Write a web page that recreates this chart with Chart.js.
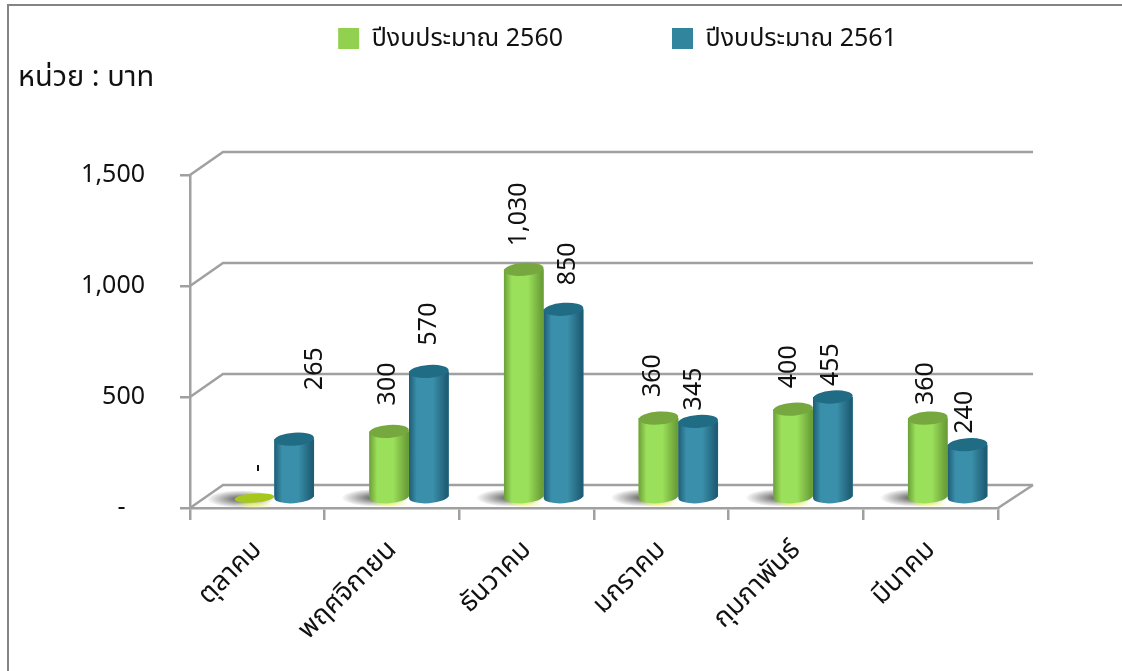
<!DOCTYPE html>
<html>
<head>
<meta charset="utf-8">
<style>
html, body { margin: 0; padding: 0; background: #fff; }
#wrap { width: 1122px; height: 671px; }
</style>
<script src="https://cdn.jsdelivr.net/npm/chart.js@4/dist/chart.umd.min.js"></script>
</head>
<body>
<div id="wrap"><canvas id="budgetChart" width="1122" height="671"></canvas></div>
<script>
var months = ['ตุลาคม', 'พฤศจิกายน', 'ธันวาคม', 'มกราคม', 'กุมภาพันธ์', 'มีนาคม'];
var budget2560 = [0, 300, 1030, 360, 400, 360];
var budget2561 = [265, 570, 850, 345, 455, 240];
var yTicks = [0, 500, 1000, 1500];
var unitLabel = 'หน่วย : บาท';

var fontName = '"Noto Sans", "Noto Sans Thai", "DejaVu Sans", sans-serif';
var gridGrey = '#a0a0a0';
var depthX = 33, depthY = 23;      // wall depth
var barShiftX = 17, barShiftY = 10; // bars stand in the middle of the floor
var legendGap = 109;

// per series look of the cylinders
var looks = [
    { edge: '#6b9f38', mid: '#9be05a', cap: '#76a83f', flat: '#a6c81c' },
    { edge: '#1f5c75', mid: '#3a90aa', cap: '#206c85', flat: '#206c85' }
];

// small hand adjustments of the value labels, [dx, gap above the cap]
var labelNudge = [
    [[3, 26], [-1, 26], [-5, 23], [-6, 21], [-4, 21], [-2, 13]],
    [[21, 49], [0, 26], [4, 24], [-4, 11], [-2, 11], [-3, 11]]
];

function formatNum(v) {
    if (v === 0) return '-';
    return v.toLocaleString('en-US');
}

var wallPlugin = {
    id: 'wall',
    beforeDraw: function (chart) {
        var c = chart.ctx;
        c.save();
        // outer frame
        c.strokeStyle = '#848484';
        c.lineWidth = 2;
        c.beginPath();
        c.moveTo(8, 671);
        c.lineTo(8, 5);
        c.lineTo(1122, 5);
        c.stroke();
        // unit text
        c.fillStyle = '#111';
        c.font = '29px ' + fontName;
        c.textBaseline = 'middle';
        c.fillText(unitLabel, 18, 78);
        // back wall and floor
        var a = chart.chartArea;
        var y = chart.scales.y;
        c.strokeStyle = gridGrey;
        c.lineWidth = 2.5;
        yTicks.forEach(function (t) {
            var py = y.getPixelForValue(t);
            c.beginPath();
            c.moveTo(a.left, py);
            c.lineTo(a.left + depthX, py - depthY);
            c.lineTo(a.right + depthX + 2, py - depthY);
            c.stroke();
        });
        c.beginPath();
        c.moveTo(a.right, a.bottom);
        c.lineTo(a.right + depthX + 2, a.bottom - depthY);
        c.stroke();
        c.restore();
    },
    afterLayout: function (chart) {
        // legend sits right of centre, as in the original
        var lg = chart.legend;
        lg.left = 55;
        lg.right = 1180;
        lg.top = 26 - legendGap;
    },
    beforeDatasetsDraw: function (chart) {
        var c = chart.ctx;
        // floor shadows under the green bars
        var meta = chart.getDatasetMeta(0);
        meta.data.forEach(function (bar) {
            var base = bar.base - barShiftY;
            var cx = bar.x + barShiftX - bar.width / 2 + 6;
            c.save();
            c.translate(cx, base + 1);
            c.scale(1, 0.26);
            var g = c.createRadialGradient(0, 0, 2, 0, 0, 34);
            g.addColorStop(0, 'rgba(70,70,70,0.85)');
            g.addColorStop(1, 'rgba(70,70,70,0)');
            c.fillStyle = g;
            c.beginPath();
            c.arc(0, 0, 34, 0, Math.PI * 2);
            c.fill();
            c.restore();
            c.save();
            c.translate(bar.x + barShiftX, base + 7);
            c.scale(1, 0.18);
            var y2 = c.createRadialGradient(0, 0, 4, 0, 0, 20);
            y2.addColorStop(0, 'rgba(240,245,120,0.8)');
            y2.addColorStop(1, 'rgba(240,245,120,0)');
            c.fillStyle = y2;
            c.beginPath();
            c.arc(0, 0, 20, 0, Math.PI * 2);
            c.fill();
            c.restore();
        });
        c.save();
        c.translate(barShiftX, -barShiftY);
    },
    afterDatasetsDraw: function (chart) {
        var c = chart.ctx;
        // round the bars off, 2561 goes over 2560
        chart.data.datasets.forEach(function (ds, i) {
            var look = looks[i];
            chart.getDatasetMeta(i).data.forEach(function (bar) {
                var left = bar.x - bar.width / 2, right = bar.x + bar.width / 2;
                var ry = 6.5, tilt = -0.07;
                if (bar.base - bar.y < 1) {
                    c.fillStyle = look.flat;
                    c.beginPath();
                    c.ellipse(bar.x, bar.y, bar.width / 2, ry - 2, tilt, 0, Math.PI * 2);
                    c.fill();
                    return;
                }
                var g = c.createLinearGradient(left, 0, right, 0);
                g.addColorStop(0, look.edge);
                g.addColorStop(0.2, look.mid);
                g.addColorStop(0.6, look.mid);
                g.addColorStop(0.95, look.edge);
                g.addColorStop(1, look.edge);
                c.fillStyle = g;
                c.beginPath();
                c.ellipse(bar.x, bar.base, bar.width / 2, ry, tilt, 0, Math.PI);
                c.lineTo(left, bar.y);
                c.lineTo(right, bar.y);
                c.closePath();
                c.fill();
                c.fillStyle = look.cap;
                c.beginPath();
                c.ellipse(bar.x, bar.y, bar.width / 2, ry, tilt, 0, Math.PI * 2);
                c.fill();
            });
        });
        c.restore();
        // value labels, turned upright
        c.save();
        c.fillStyle = '#111';
        c.font = '25px ' + fontName;
        c.textBaseline = 'middle';
        c.textAlign = 'left';
        chart.data.datasets.forEach(function (ds, i) {
            chart.getDatasetMeta(i).data.forEach(function (bar, j) {
                var n = labelNudge[i][j];
                c.save();
                c.translate(bar.x + barShiftX + n[0], bar.y - barShiftY - n[1]);
                c.rotate(-Math.PI / 2);
                c.fillText(formatNum(ds.data[j]), 0, 0);
                c.restore();
            });
        });
        c.restore();
    }
};

var ctx = document.getElementById('budgetChart').getContext('2d');
var chart = new Chart(ctx, {
    type: 'bar',
    data: {
        labels: months,
        datasets: [{
            label: 'ปีงบประมาณ 2560',
            data: budget2560,
            backgroundColor: '#92d050',
            categoryPercentage: 0.59,
            barPercentage: 1,
            clip: false
        },
        {
            label: 'ปีงบประมาณ 2561',
            data: budget2561,
            backgroundColor: '#31859c',
            categoryPercentage: 0.59,
            barPercentage: 1,
            clip: false
        }]
    },
    plugins: [wallPlugin],
    options: {
        responsive: false,
        animation: false,
        layout: {
            padding: { left: 10, right: 124, top: 31, bottom: 0 }
        },
        plugins: {
            tooltip: { enabled: false },
            legend: {
                position: 'top',
                labels: {
                    boxWidth: 21,
                    boxHeight: 21,
                    padding: legendGap,
                    color: '#111',
                    font: { family: fontName, size: 25 }
                }
            }
        },
        scales: {
            x: {
                afterFit: function (scale) { scale.height = 163; },
                border: { color: gridGrey, width: 2.5 },
                grid: { drawOnChartArea: false, color: gridGrey, lineWidth: 2.5, tickLength: 12 },
                ticks: {
                    color: '#111',
                    font: { family: fontName, size: 27 },
                    minRotation: 45,
                    maxRotation: 45,
                    padding: 14
                }
            },
            y: {
                min: 0,
                max: 1500,
                afterFit: function (scale) { scale.width = 180; },
                border: { color: gridGrey, width: 2.5 },
                grid: { drawOnChartArea: false, color: gridGrey, lineWidth: 2.5, tickLength: 10 },
                ticks: {
                    stepSize: 500,
                    color: '#111',
                    padding: 35,
                    font: { family: fontName, size: 25 },
                    callback: function (v) { return v === 0 ? '-\u00a0\u00a0\u00a0' : formatNum(v); }
                }
            }
        }
    }
});
</script>
</body>
</html>
